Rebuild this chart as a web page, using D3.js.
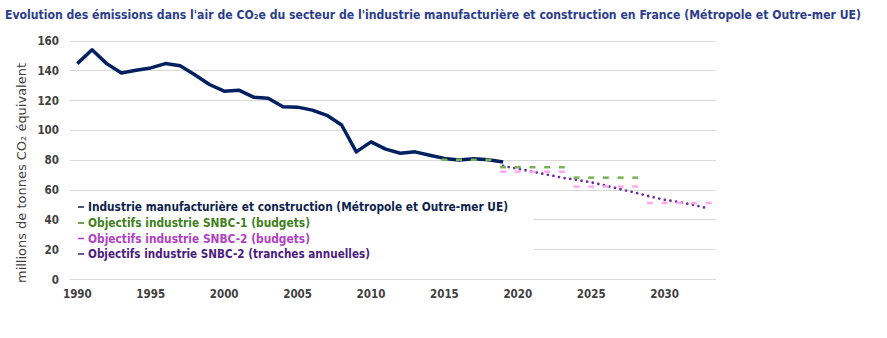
<!DOCTYPE html>
<html>
<head>
<meta charset="utf-8">
<script src="https://cdn.jsdelivr.net/npm/d3@7"></script>
<style>
  body { margin: 0; background: #fff; }
  svg { display: block; }
</style>
</head>
<body>
<div id="chart"></div>
<script>
// Years on the category axis (1990 to 2033)
var years = d3.range(1990, 2034);
var yTicks = [0, 20, 40, 60, 80, 100, 120, 140, 160];
var xTickYears = [1990, 1995, 2000, 2005, 2010, 2015, 2020, 2025, 2030];

// Historic emissions, Mt CO2e, 1990-2019
var histYears = d3.range(1990, 2020);
var histValues = [144.5, 153.8, 144.5, 138.2, 140, 141.6, 144.5, 143, 137, 130.5,
  126, 126.7, 122, 121.3, 115.5, 115.3, 113.3, 109.8, 103.3, 85.3,
  92, 87.1, 84.4, 85.3, 83, 80.9, 79.8, 80.7, 80, 78.5];

// SNBC-1 carbon budgets (yearly average per budget period)
var snbc1Years = d3.range(2015, 2029);
var snbc1Values = [80, 80, 80, 80, 75, 75, 75, 75, 75, 68, 68, 68, 68, 68];

// SNBC-2 carbon budgets
var snbc2Years = d3.range(2019, 2034);
var snbc2Values = [72, 72, 72, 72, 72, 62, 62, 62, 62, 62, 51, 51, 51, 51, 51];

// SNBC-2 yearly tranches
var trancheYears = d3.range(2019, 2034);
var trancheValues = [75.8, 74, 72, 70, 68, 66.5, 64.8, 62.6, 60.2, 57.9,
  55.4, 53.1, 51.6, 49.6, 47.3];

var titleText = "Evolution des émissions dans l'air de CO₂e du secteur de l'industrie manufacturière et construction en France (Métropole et Outre-mer UE)";
var yTitleText = "millions  de  tonnes  CO₂  équivalent";

var legendLabels = [
  "Industrie manufacturière  et construction  (Métropole  et Outre-mer UE)",
  "Objectifs industrie SNBC-1  (budgets)",
  "Objectifs industrie SNBC-2  (budgets)",
  "Objectifs industrie SNBC-2  (tranches annuelles)"
];

var svgWidth = 887;
var svgHeight = 338;
var plot = { left: 70, right: 716, top: 40.5, bottom: 279 };

var svg = d3.select("#chart")
  .append("svg")
  .attr("width", svgWidth)
  .attr("height", svgHeight);

var x = d3.scaleBand()
  .domain(years)
  .range([plot.left, plot.right]);

var y = d3.scaleLinear()
  .domain([0, 160])
  .range([plot.bottom, plot.top]);

var xc = function (yr) { return x(yr) + x.bandwidth() / 2; };

var tickFont = "'DejaVu Sans Condensed', 'DejaVu Sans', sans-serif";

// Title
svg.append("text")
  .attr("x", 5)
  .attr("y", 19)
  .attr("fill", "#2b3d8c")
  .style("font-family", tickFont)
  .style("font-size", "12px")
  .style("font-weight", "600")
  .attr("textLength", 856)
  .attr("lengthAdjust", "spacingAndGlyphs")
  .text(titleText);

// Gridlines
svg.append("g")
  .selectAll("line")
  .data(yTicks)
  .enter()
  .append("line")
  .attr("x1", plot.left)
  .attr("x2", plot.right)
  .attr("y1", d => Math.round(y(d)) + 0.5)
  .attr("y2", d => Math.round(y(d)) + 0.5)
  .attr("stroke", "#d9d9d9")
  .attr("stroke-width", 1);

// Y axis labels
var leftAxis = d3.axisLeft(y).tickValues(yTicks).tickSize(0).tickPadding(0);
var yAxis = svg.append("g")
  .attr("transform", "translate(59, 0)")
  .call(leftAxis);
yAxis.select(".domain").remove();
yAxis.selectAll("text")
  .attr("fill", "#404040")
  .attr("dy", "0.35em")
  .style("font-family", tickFont)
  .style("font-size", "11.5px")
  .style("font-weight", "bold");

// X axis labels
var bottomAxis = d3.axisBottom(x).tickValues(xTickYears).tickSize(0).tickPadding(0);
var xAxis = svg.append("g")
  .attr("transform", "translate(0, 290)")
  .call(bottomAxis);
xAxis.select(".domain").remove();
xAxis.selectAll("text")
  .attr("fill", "#404040")
  .attr("dy", "0.71em")
  .style("font-family", tickFont)
  .style("font-size", "11.5px")
  .style("font-weight", "bold");

// Y axis title
svg.append("text")
  .attr("transform", "translate(26, 173) rotate(-90)")
  .attr("text-anchor", "middle")
  .attr("fill", "#404040")
  .style("font-family", tickFont)
  .style("font-size", "13px")
  .attr("textLength", 220)
  .attr("lengthAdjust", "spacingAndGlyphs")
  .text(yTitleText);

// Legend box hides the lower gridlines behind it
svg.append("rect")
  .attr("x", plot.left)
  .attr("y", 196)
  .attr("width", 464)
  .attr("height", 66)
  .attr("fill", "#fff");

// SNBC-2 yearly tranches, dotted
var line = d3.line()
  .x(d => xc(d[0]))
  .y(d => y(d[1]));

svg.append("path")
  .datum(d3.zip(trancheYears, trancheValues))
  .attr("d", line)
  .attr("fill", "none")
  .attr("stroke", "#7030a0")
  .attr("stroke-width", 2.8)
  .attr("stroke-linecap", "round")
  .attr("stroke-dasharray", "0,5.7");

// SNBC-2 budgets, dash markers
svg.append("g")
  .selectAll("line")
  .data(d3.zip(snbc2Years, snbc2Values))
  .enter()
  .append("line")
  .attr("x1", d => xc(d[0]) - 3)
  .attr("x2", d => xc(d[0]) + 3)
  .attr("y1", d => y(d[1]))
  .attr("y2", d => y(d[1]))
  .attr("stroke", "#ffa8f0")
  .attr("stroke-width", 2.5);

// Historic emissions
svg.append("path")
  .datum(d3.zip(histYears, histValues))
  .attr("d", line)
  .attr("fill", "none")
  .attr("stroke", "#002060")
  .attr("stroke-width", 3.5)
  .attr("stroke-linejoin", "round");

// SNBC-1 budgets, dash markers
svg.append("g")
  .selectAll("line")
  .data(d3.zip(snbc1Years, snbc1Values))
  .enter()
  .append("line")
  .attr("x1", d => xc(d[0]) - 3)
  .attr("x2", d => xc(d[0]) + 3)
  .attr("y1", d => y(d[1]))
  .attr("y2", d => y(d[1]))
  .attr("stroke", "#77b255")
  .attr("stroke-width", 2.5);

// Legend
var legendColors = ["#0d1f4f", "#3f7f1c", "#b23fc4", "#4b1b80"];
var legendWidths = [420, 222, 222, 282];
var legendRows = [207, 223, 238.5, 254];

var legend = svg.append("g");
legendLabels.forEach(function (label, i) {
  legend.append("line")
    .attr("x1", 78)
    .attr("x2", 84)
    .attr("y1", legendRows[i])
    .attr("y2", legendRows[i])
    .attr("stroke", legendColors[i])
    .attr("stroke-width", 1.5);
  legend.append("text")
    .attr("x", 88)
    .attr("y", legendRows[i])
    .attr("dy", "0.35em")
    .attr("fill", legendColors[i])
    .style("font-family", tickFont)
    .style("font-size", "12px")
    .style("font-weight", "bold")
    .attr("textLength", legendWidths[i])
    .attr("lengthAdjust", "spacingAndGlyphs")
    .text(label);
});
</script>
</body>
</html>
